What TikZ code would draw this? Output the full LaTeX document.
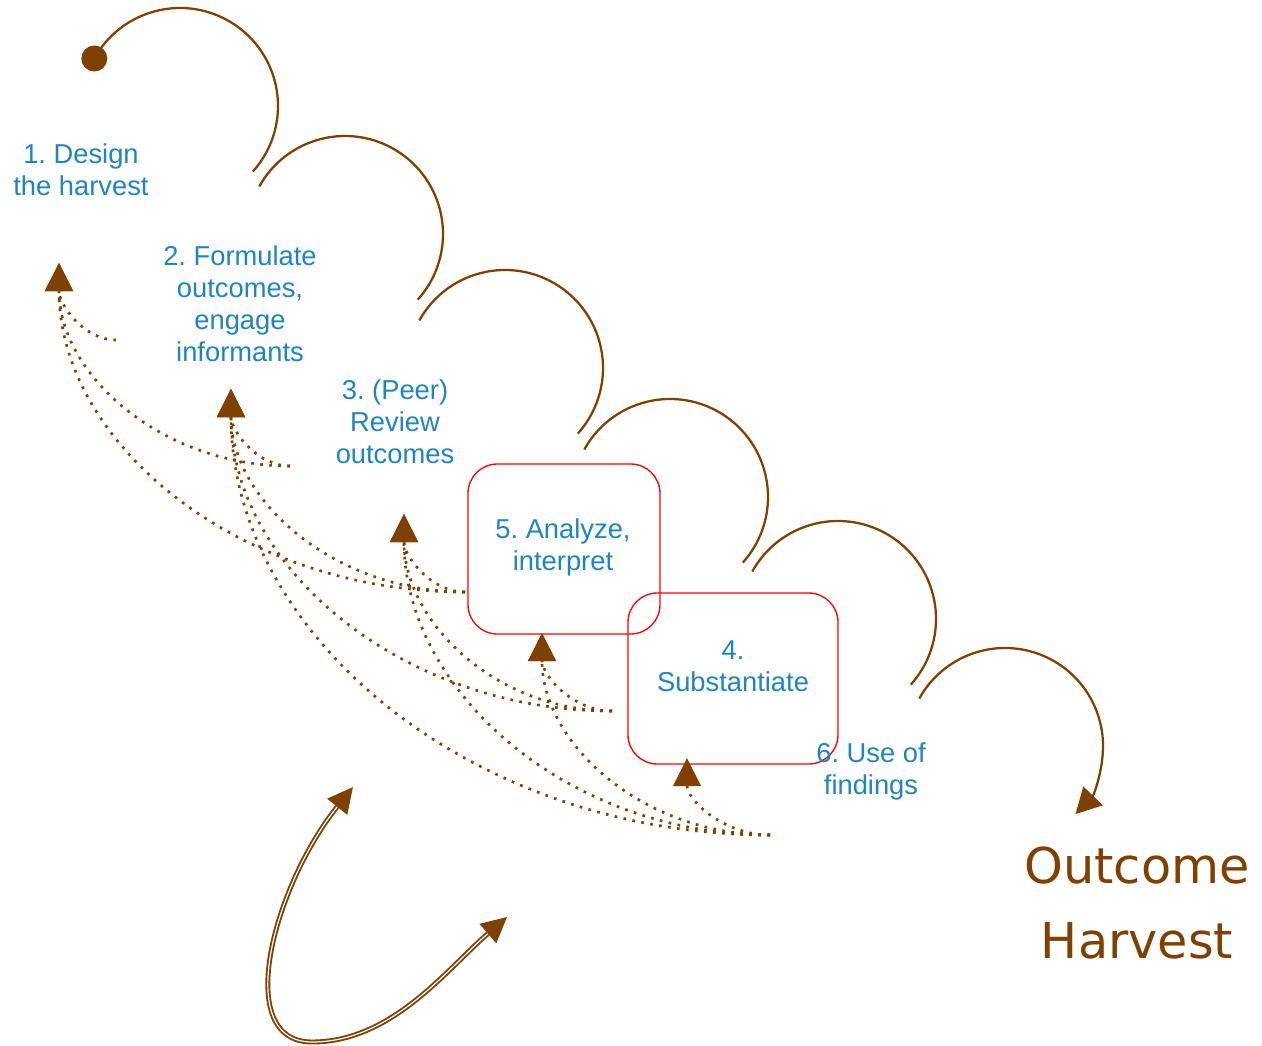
\documentclass[tikz,border=0pt]{standalone}
\usepackage{fontspec}
\setmainfont{Liberation Sans}
\newfontfamily\titlefont{DejaVu Sans}
\usetikzlibrary{arrows.meta,calc}
\frenchspacing

\definecolor{harvestbrown}{RGB}{128,64,0}
\definecolor{stepblue}{RGB}{30,132,196}
\definecolor{boxred}{RGB}{255,0,0}

\tikzset{
  flow/.style={draw=harvestbrown, line width=1.7pt},
  backarrow/.style={color=harvestbrown, line width=2pt, dash pattern=on 2pt off 4.8pt,
    -{Triangle[length=21pt,width=20.5pt]}},
  loopback/.style={color=harvestbrown, line width=1.4pt, double=white, double distance=0.9pt,
    {Triangle[length=19pt,width=19pt]}-{Triangle[length=19pt,width=19pt]}},
  steptext/.style={text=stepblue, align=center, inner sep=0pt,
    font=\fontsize{20.5}{24}\selectfont},
  stepbox/.style={draw=boxred, line width=1pt, rounded corners=22pt},
}

\begin{document}
\begin{tikzpicture}[x=0.75pt,y=0.75pt,yscale=-1,xscale=1]
\useasboundingbox (0,0) rectangle (1262,1045);

% boxes round steps 5 and 4
\node[stepbox, minimum width=144pt, minimum height=127.5pt] (box5) at (564,549) {};
\node[stepbox, minimum width=157.5pt, minimum height=128.25pt] (box4) at (733,678.5) {};

% step labels
\node[steptext] (step1) at (81,170) {1. Design\\the harvest};
\node[steptext] (step2) at (240,304) {2. Formulate\\outcomes,\\engage\\informants};
\node[steptext] (step3) at (395,422) {3. (Peer)\\Review\\outcomes};
\node[steptext] (step5) at (563,547) {5. Analyze,\\interpret};
\node[steptext] (step4) at (733,666) {4.\\Substantiate};
\node[steptext] (step6) at (871,771) {6. Use of\\findings};

% main flow of arcs
\coordinate (dot) at (94.3,58.5);
\fill[harvestbrown] (dot) circle[radius=13];
\foreach \cx/\cy in {180/106, 345/234, 505/368, 670/497, 838/619}
  \draw[flow] (\cx,\cy) ++(-151:98) arc[start angle=-151, end angle=42, radius=98];
\draw[flow, -{Triangle[length=19pt,width=20pt]}] (1005,746) ++(-151:98) arc[start angle=-151, end angle=44, radius=98];

% dotted return arrows
\coordinate (a1) at (59,263);
\coordinate (a2) at (231,389);
\coordinate (a3) at (404,514);
\coordinate (a5) at (542,633);
\coordinate (a4) at (687,758);
\coordinate (s2) at (116,340);
\coordinate (s3) at (290,466);
\coordinate (s5) at (465,592);
\coordinate (s4) at (612,711);
\coordinate (s6) at (770,835);
\foreach \src/\dst in {s2/a1, s3/a1, s5/a1, s3/a2, s5/a2, s4/a2, s6/a2,
                       s5/a3, s4/a3, s6/a3, s4/a5, s6/a5, s6/a4}
  \draw[backarrow] (\src) .. controls ($(\src)!0.552!(\dst|-\src)$) and ($(\dst)!0.552!(\dst|-\src)$) .. (\dst);

% double loop arrow
\coordinate (b1) at (353,787);
\coordinate (bot) at (312,1042);
\coordinate (b2) at (507,917);
\draw[loopback] (b1) .. controls +(-80,100) and +(-80,0) .. (bot) .. controls +(80,0) and +(-60,52) .. (b2);

% title
\node[text=harvestbrown, align=center, font=\titlefont\fontsize{37}{56}\selectfont] (title) at (1137,903) {Outcome\\Harvest};

\end{tikzpicture}
\end{document}
